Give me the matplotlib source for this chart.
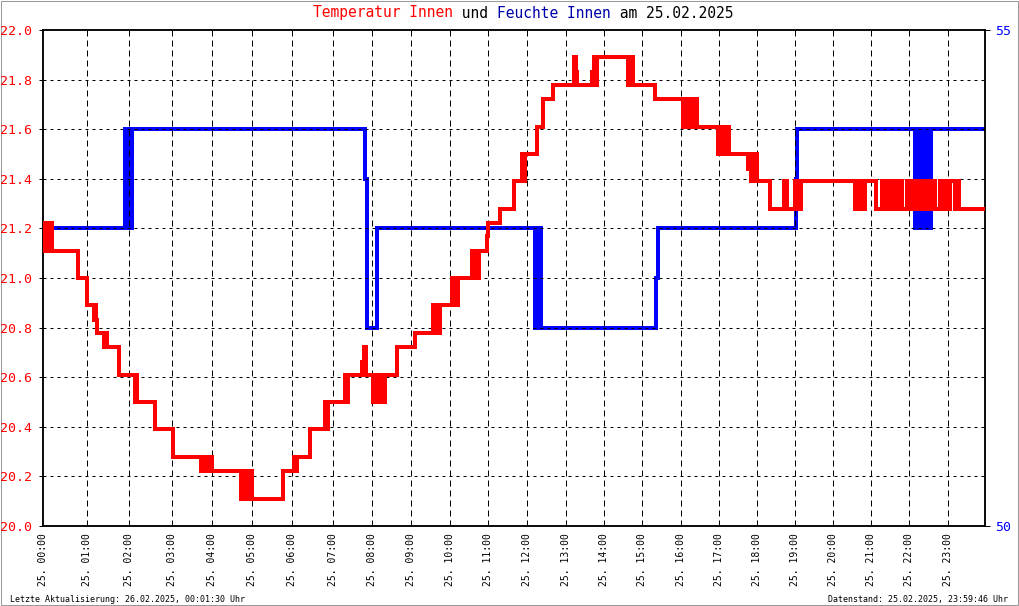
import matplotlib
matplotlib.use("Agg")
import matplotlib.pyplot as plt
from matplotlib.patches import Rectangle

plt.rcParams['lines.scale_dashes'] = False
MONO = 'DejaVu Sans Mono'

# ---------------- data ----------------
# x positions along the chart's time axis (the reference axis is not uniform in clock time;
# hour ticks sit at the positions, see hour_tick_pos)
temp_hours = [0.00, 0.05, 0.09, 0.14, 0.19, 0.23, 0.89, 1.12, 1.30, 1.33, 1.36, 1.38,
              1.55, 1.59, 1.63, 1.94, 2.34, 2.37, 2.40, 2.85, 3.31, 4.02, 4.10, 4.20,
              4.24, 4.30, 5.05, 5.12, 5.15, 5.20, 5.24, 5.28, 5.32, 6.11, 6.39, 6.42,
              6.46, 6.80, 7.18, 7.22, 7.27, 7.69, 7.73, 7.78, 8.12, 8.17, 8.22, 8.41,
              8.46, 8.50, 8.55, 8.60, 8.64, 8.67, 8.72, 9.02, 9.48, 9.94, 9.98, 10.04,
              10.07, 10.11, 10.42, 10.47, 10.57, 10.93, 10.98, 11.03, 11.06, 11.10, 11.31, 11.35,
              11.64, 12.00, 12.20, 12.23, 12.28, 12.59, 12.74, 12.99, 13.54, 13.58, 13.60, 14.00,
              14.03, 14.07, 14.12, 14.90, 14.95, 15.02, 15.59, 16.30, 16.34, 16.38, 16.42, 16.47,
              16.50, 16.55, 16.58, 16.60, 16.66, 17.20, 17.24, 17.28, 17.32, 17.36, 17.40, 17.48,
              17.97, 18.00, 18.05, 18.10, 18.18, 18.52, 18.88, 18.95, 19.15, 19.18, 19.22, 19.26,
              19.32, 20.69, 20.76, 20.84, 20.94, 21.22, 21.38, 21.40, 21.46, 21.50, 21.58, 21.63,
              21.71, 21.78, 21.85, 21.88, 22.01, 22.04, 22.10, 22.13, 22.22, 22.24, 22.30, 22.34,
              22.42, 22.45, 22.52, 22.54, 22.60, 22.63, 22.70, 22.73, 22.85, 22.90, 22.96, 23.00,
              23.11, 23.24, 23.28, 23.33, 24.00]
temp_values = [21.22, 21.11, 21.22, 21.11, 21.22, 21.11, 21.00, 20.89, 20.83, 20.89, 20.83, 20.78,
               20.72, 20.78, 20.72, 20.61, 20.50, 20.61, 20.50, 20.39, 20.28, 20.22, 20.28, 20.22,
               20.28, 20.22, 20.11, 20.22, 20.11, 20.22, 20.11, 20.22, 20.11, 20.22, 20.28, 20.22,
               20.28, 20.39, 20.50, 20.39, 20.50, 20.61, 20.50, 20.61, 20.66, 20.72, 20.61, 20.50,
               20.61, 20.50, 20.61, 20.50, 20.61, 20.50, 20.61, 20.72, 20.78, 20.89, 20.78, 20.89,
               20.78, 20.89, 21.00, 20.89, 21.00, 21.11, 21.00, 21.11, 21.00, 21.11, 21.17, 21.22,
               21.28, 21.39, 21.50, 21.39, 21.50, 21.61, 21.72, 21.78, 21.89, 21.83, 21.78, 21.83,
               21.89, 21.78, 21.89, 21.78, 21.89, 21.78, 21.72, 21.61, 21.72, 21.61, 21.72, 21.61,
               21.72, 21.61, 21.67, 21.72, 21.61, 21.50, 21.61, 21.50, 21.61, 21.50, 21.61, 21.50,
               21.44, 21.50, 21.39, 21.50, 21.39, 21.28, 21.39, 21.28, 21.39, 21.28, 21.39, 21.28,
               21.39, 21.28, 21.39, 21.28, 21.39, 21.28, 21.39, 21.28, 21.39, 21.28, 21.39, 21.28,
               21.39, 21.28, 21.39, 21.28, 21.39, 21.28, 21.39, 21.28, 21.39, 21.28, 21.39, 21.28,
               21.39, 21.28, 21.39, 21.28, 21.39, 21.28, 21.39, 21.28, 21.39, 21.28, 21.39, 21.28,
               21.39, 21.28, 21.39, 21.28, 21.28]

hum_hours = [0.00, 2.09, 2.12, 2.15, 2.18, 2.21, 2.24, 2.27, 8.20, 8.25, 8.51, 12.53,
             12.57, 12.61, 12.65, 12.69, 15.62, 15.66, 19.18, 19.22, 22.22, 22.26, 22.29, 22.32,
             22.39, 22.43, 22.47, 22.50, 22.54, 22.58, 22.61, 22.63, 24.00]
hum_values = [53, 54, 53, 54, 53, 54, 53, 54, 53.5, 52, 53, 52,
              53, 52, 53, 52, 52.5, 53, 53.5, 54, 53, 54, 53, 54,
              53, 54, 53, 54, 53, 54, 53, 54, 54]

hour_tick_pos = [0.000, 1.113, 2.199, 3.279, 4.313, 5.333, 6.336, 7.381, 8.390, 9.376,
                 10.369, 11.345, 12.339, 13.317, 14.293, 15.261, 16.250, 17.215, 18.183,
                 19.159, 20.115, 21.088, 22.071, 23.049]
hour_labels = ["25. 00:00", "25. 01:00", "25. 02:00", "25. 03:00", "25. 04:00", "25. 05:00",
               "25. 06:00", "25. 07:00", "25. 08:00", "25. 09:00", "25. 10:00", "25. 11:00",
               "25. 12:00", "25. 13:00", "25. 14:00", "25. 15:00", "25. 16:00", "25. 17:00",
               "25. 18:00", "25. 19:00", "25. 20:00", "25. 21:00", "25. 22:00", "25. 23:00"]
temp_ticks = [20.0, 20.2, 20.4, 20.6, 20.8, 21.0, 21.2, 21.4, 21.6, 21.8, 22.0]
temp_labels = ["20.0", "20.2", "20.4", "20.6", "20.8", "21.0", "21.2", "21.4", "21.6", "21.8", "22.0"]
hum_ticks = [50, 55]
hum_labels = ["50", "55"]

# ---------------- figure ----------------
W, H = 1020, 606
fig = plt.figure(figsize=(W / 100, H / 100), dpi=100)
L, R, T, B = 43, 985, 30, 526
ax = fig.add_axes([L / W, 1 - B / H, (R - L) / W, (B - T) / H])
ax2 = ax.twinx()

RED = '#ff0000'
BLUE = '#0000ff'
px = 0.72

ax2.plot(hum_hours, hum_values, drawstyle='steps-post', color=BLUE, lw=4 * px,
         solid_joinstyle='miter', solid_capstyle='butt')
ax.plot(temp_hours, temp_values, drawstyle='steps-post', color=RED, lw=4 * px,
        solid_joinstyle='miter', solid_capstyle='butt', zorder=3)

ax.set_zorder(ax2.get_zorder() + 1)
ax.patch.set_visible(False)

ax.set_xlim(0, 24)
ax.set_ylim(20.0, 22.0)
ax2.set_ylim(50, 55)

ax.set_xticks(hour_tick_pos)
ax.set_xticklabels(hour_labels, rotation=90, fontfamily=MONO, fontsize=7, va='top', ha='center')
ax.set_yticks(temp_ticks)
ax.set_yticklabels(temp_labels, fontfamily=MONO, fontsize=9.5, color=RED)
ax2.set_yticks(hum_ticks)
ax2.set_yticklabels(hum_labels, fontfamily=MONO, fontsize=9.5, color=BLUE)

ax.tick_params(axis='x', length=0, pad=5)
ax.tick_params(axis='y', length=4 * px, width=1 * px, pad=5, colors='black', labelcolor=RED)
ax2.tick_params(axis='y', length=5 * px, width=1 * px, pad=4, colors='black', labelcolor=BLUE)

for a in (ax, ax2):
    for s in a.spines.values():
        s.set_color('black')
        s.set_linewidth(1.5 * px)

for h in hour_tick_pos[1:]:
    ax.axvline(h, color='black', lw=1 * px, linestyle=(0, (6 * px, 4 * px)), zorder=1.5)
for t in temp_ticks[1:-1]:
    ax.axhline(t, color='black', lw=1 * px, linestyle=(0, (3 * px, 4 * px)), zorder=1.5)

# ---------------- title (multi-coloured, monospace) ----------------
title_parts = [("Temperatur Innen", RED), (" und ", 'black'), ("Feuchte Innen", '#0000aa'),
               (" am 25.02.2025", 'black')]
fs_title = 10.5
adv = 0.602 * fs_title * 100 / 72
x0 = 313
n = 0
for txt, col in title_parts:
    fig.text((x0 + n * adv) / W, 1 - 17.5 / H, txt, color=col, fontfamily=MONO,
             fontsize=fs_title, ha='left', va='baseline')
    n += len(txt)

fig.text(10 / W, 1 - 602 / H, "Letzte Aktualisierung: 26.02.2025, 00:01:30 Uhr",
         fontfamily=MONO, fontsize=6, ha='left', va='baseline')
fig.text(1008 / W, 1 - 602 / H, "Datenstand: 25.02.2025, 23:59:46 Uhr",
         fontfamily=MONO, fontsize=6, ha='right', va='baseline')

fig.add_artist(Rectangle((0.5 / W, 1.5 / H), 1017.5 / W, 604 / H, transform=fig.transFigure,
                         fill=False, edgecolor='#999999', lw=1 * px))

fig.savefig("out.png", dpi=100)
